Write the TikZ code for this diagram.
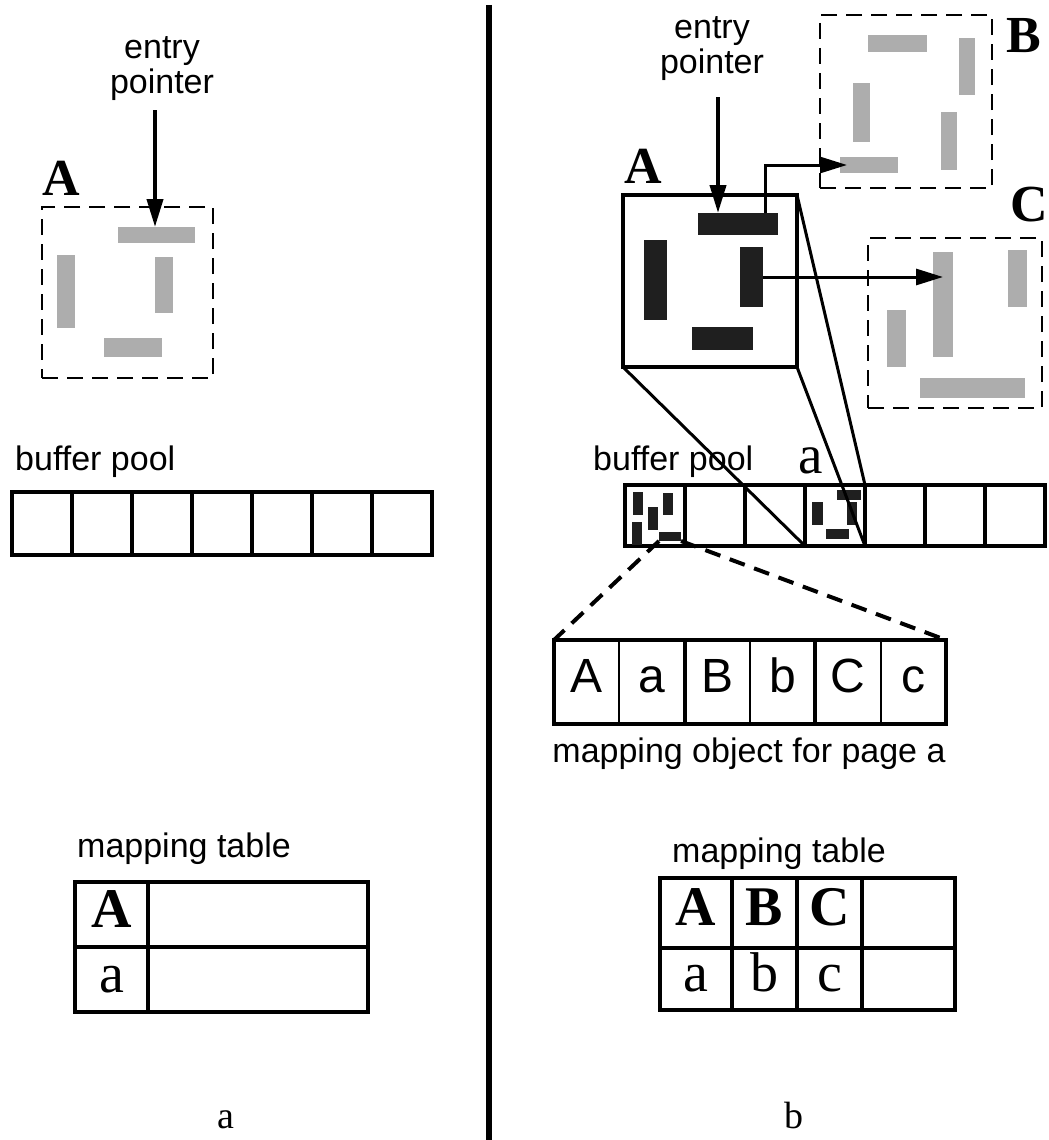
\documentclass[tikz,border=0pt]{standalone}
\usepackage{fontspec}
\setmainfont{Liberation Serif}
\setsansfont{Liberation Sans}
\usetikzlibrary{arrows.meta}

\begin{document}
\begin{tikzpicture}[x=1pt, y=-1pt,
  pagebox/.style={draw, line width=2.5pt, dash pattern=on 16pt off 9pt, inner sep=0pt, outer sep=0pt},
  solidbox/.style={draw, line width=4pt, inner sep=0pt, outer sep=0pt},
  gobj/.style={fill=black!32, inner sep=0pt, outer sep=0pt},
  bobj/.style={fill=black!88, inner sep=0pt, outer sep=0pt},
  cell/.style={draw, line width=4pt, minimum width=60pt, inner sep=0pt, outer sep=0pt},
  mcell/.style={draw, line width=2pt, minimum width=65.33pt, minimum height=84pt, inner sep=0pt, outer sep=0pt,
    text height=35pt, text depth=15pt, font=\fontsize{48}{48}\selectfont\sffamily},
  tcell/.style={draw, line width=3.5pt, inner sep=0pt, outer sep=0pt,
    text height=37pt, text depth=12pt, font=\fontsize{56}{56}\selectfont},
  lbl/.style={inner sep=0pt, font=\fontsize{34}{35}\selectfont\sffamily},
  pagelbl/.style={inner sep=0pt, font=\fontsize{52}{52}\selectfont\bfseries},
  ptr/.style={line width=4pt, -{Triangle[length=28pt, width=16pt]}},
  lnk/.style={line width=3pt, -{Triangle[length=27pt, width=16pt]}},
  proj/.style={line width=3pt},
  zoomln/.style={line width=4pt, dash pattern=on 16pt off 10pt}]
\useasboundingbox (0,0) rectangle (1049,1140);
\clip (0,0) rectangle (1049,1140);

% left: page A before swizzling
\node[lbl, align=center, anchor=south] (lentry) at (162,101) {entry\\pointer};
\node[pagelbl] (lAlbl) at (61,178) {A};
\node[pagebox, minimum width=171pt, minimum height=171pt] (lA) at (127.5,292.5) {};
\foreach \n/\p/\w/\h in {la1/{156.5,235}/77/16, la2/{66,291.5}/18/73,
                         la3/{164,285}/18/56, la4/{133,347.5}/58/19}
  \node[gobj, minimum width=\w pt, minimum height=\h pt] (\n) at (\p) {};
\coordinate (lptr) at (155,110);
\draw[ptr] (lptr) -- (lptr |- la1.north);

\node[lbl, anchor=base west] (lbuflbl) at (15,470) {buffer pool};
\foreach \i in {0,...,6}
  \node[cell, minimum height=63pt] (lb\i) at ({42+60*\i},523.5) {};

\node[lbl, anchor=base west] (lmaplbl) at (77,857) {mapping table};
\node[tcell, minimum width=73pt, minimum height=65pt] (lm1) at (111.5,914.5) {\bfseries A};
\node[tcell, minimum width=220pt, minimum height=65pt] (lm2) at (258,914.5) {};
\node[tcell, minimum width=73pt, minimum height=65pt] (lm3) at (111.5,979.5) {a};
\node[tcell, minimum width=220pt, minimum height=65pt] (lm4) at (258,979.5) {};

\node[inner sep=0pt, anchor=base, font=\fontsize{38}{38}\selectfont] (capa) at (226,1128) {a};

% divider
\coordinate (dtop) at (489,5);
\coordinate (dbot) at (489,1140);
\draw[line width=6pt] (dtop) -- (dbot);

% right: page A loaded, B and C on disk
\node[lbl, align=center, anchor=south] (rentry) at (712,81) {entry\\pointer};
\node[pagelbl] (rAlbl) at (643,166) {A};
\node[solidbox, minimum width=174pt, minimum height=172pt] (rA) at (710,281) {};
\foreach \n/\p/\w/\h in {ra1/{738,224}/80/22, ra2/{655.5,280}/23/80,
                         ra3/{751.5,277}/23/60, ra4/{722.5,338.5}/61/23}
  \node[bobj, minimum width=\w pt, minimum height=\h pt] (\n) at (\p) {};
\coordinate (rptr) at (718,97);
\draw[ptr] (rptr) -- (rptr |- ra1.north);

\node[pagelbl] (rBlbl) at (1024,36) {B};
\node[pagebox, minimum width=172pt, minimum height=173pt] (rB) at (906,101.5) {};
\foreach \n/\p/\w/\h in {rb1/{897.5,43.5}/59/17, rb2/{967,66.5}/16/57,
                         rb3/{861.5,112.5}/17/59, rb4/{949,141}/16/58,
                         rb5/{869,165}/58/16}
  \node[gobj, minimum width=\w pt, minimum height=\h pt] (\n) at (\p) {};

\node[pagelbl] (rClbl) at (1029,205) {C};
\node[pagebox, minimum width=174pt, minimum height=170pt] (rC) at (955,323) {};
\foreach \n/\p/\w/\h in {rc1/{943,304.5}/20/105, rc2/{1017.5,278.5}/19/57,
                         rc3/{896.5,338.5}/19/57, rc4/{972.5,388}/105/20}
  \node[gobj, minimum width=\w pt, minimum height=\h pt] (\n) at (\p) {};

\draw[lnk] ([xshift=27pt]ra1.north) |- ([xshift=7pt]rb5.west);
\draw[lnk] (ra3.east) -- (ra3.east -| rc1.center);

\node[lbl, anchor=base west] (rbuflbl) at (593,470) {buffer pool};
\node[inner sep=0pt, anchor=base, font=\fontsize{55}{55}\selectfont] (pga) at (811,473) {a};
\foreach \i in {0,...,6}
  \node[cell, minimum height=61pt] (rp\i) at ({655+60*\i},515.5) {};
% mapping object in frame 0, page a in frame 3
\foreach \n/\p/\w/\h in {m1/{638,503.5}/10/23, m2/{668,504}/10/22, m3/{653,518.5}/10/23,
                         m4/{637,533.5}/10/23, m5/{670,536.5}/22/9,
                         n1/{849,495}/24/10, n2/{852,513.5}/10/23,
                         n3/{817.5,513.5}/11/23, n4/{837.5,534}/23/10}
  \node[bobj, minimum width=\w pt, minimum height=\h pt] (\n) at (\p) {};

\draw[proj] (rA.south west) -- (rp3.south west);
\draw[proj] (rA.north east) -- (rp3.north east);
\draw[proj] (rA.south east) -- (rp3.south east);

\foreach \t [count=\i from 0] in {A,a,B,b,C,c}
  \node[mcell] (mo\i) at ({554+65.33*(\i+0.5)},682) {\t};
\foreach \i/\j in {0/1,2/3,4/5}
  \draw[line width=4pt] (mo\i.north west) rectangle (mo\j.south east);
\draw[zoomln] (m5.south west) -- (mo0.north west);
\draw[zoomln] (m5.south east) -- (mo5.north east);
\node[lbl, anchor=base] (molbl) at (749,762) {mapping object for page a};

\node[lbl, anchor=base west] (rmaplbl) at (672,862) {mapping table};
\foreach \n/\p/\w/\h/\t in {rm1/{696,913}/72/70/{\bfseries A}, rm2/{764.5,913}/65/70/{\bfseries B},
                            rm3/{829.5,913}/65/70/{\bfseries C}, rm4/{908.5,913}/93/70/{},
                            rm5/{696,979}/72/62/a, rm6/{764.5,979}/65/62/b,
                            rm7/{829.5,979}/65/62/c, rm8/{908.5,979}/93/62/{}}
  \node[tcell, minimum width=\w pt, minimum height=\h pt] (\n) at (\p) {\t};

\node[inner sep=0pt, anchor=base, font=\fontsize{38}{38}\selectfont] (capb) at (794,1128) {b};
\end{tikzpicture}
\end{document}
